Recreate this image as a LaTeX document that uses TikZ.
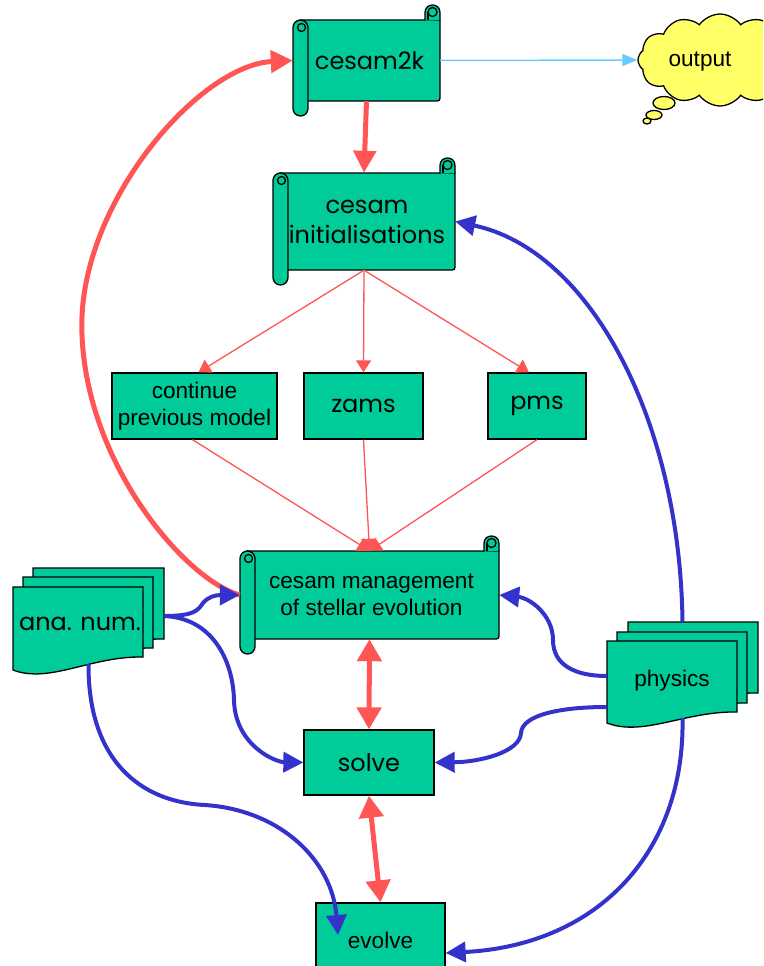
\documentclass[tikz,border=0pt]{standalone}
\usepackage{fontspec}
\setmainfont{Liberation Sans}
\newfontfamily\gothic{Poppins}
\usetikzlibrary{arrows.meta,shapes.symbols}
\definecolor{boxgreen}{RGB}{0,204,153}
\definecolor{linkred}{RGB}{255,85,85}
\definecolor{linkblue}{RGB}{51,51,204}
\definecolor{linklight}{RGB}{102,204,255}
\definecolor{cloudyellow}{RGB}{255,255,102}
\newcommand\drawscroll[4]{%
  \filldraw[shapeline] ({#1+7},#2) -- (#3,#2) -- (#3,{#4-6}) .. controls (#3,#4) .. ({#3-6},#4) -- ({#1+7},#4) -- cycle;
  \filldraw[shapeline] ({#3-15},{#2+0.6}) -- ({#3-15},{#2-7.5}) .. controls ({#3-15},{#2-17.5}) and (#3,{#2-17.5}) .. (#3,{#2-7.5}) -- (#3,#2);
  \draw[shapeline] ({#3-7.5},{#2-8}) circle (4.5);
  \draw[line width=1.3pt] ({#3-12},{#2-8}) -- ({#3-12},{#2});
  \filldraw[shapeline, rounded corners=7.5] (#1,#2) rectangle ({#1+15},{#4+15});
  \draw[shapeline] ({#1+8.5},{#2+7.5}) circle (4);
}
\newcommand\wavedoc[5]{%
  \filldraw[shapeline] (#1,#2) -- (#3,#2) -- (#3,#5) .. controls ({#3-0.4*(#3-#1)},{#5-1}) and ({#1+0.28*(#3-#1)},{#4+14}) .. (#1,#4) -- cycle;
}
\begin{document}
\begin{tikzpicture}[x=1pt,y=-1pt,
  shapeline/.style={draw=black,line width=1.3pt,fill=boxgreen},
  gtext/.style={font=\gothic\fontsize{24}{30}\selectfont},
  stext/.style={font=\fontsize{22.6}{27.5}\selectfont},
  boxnode/.style={shapeline,inner sep=0pt,align=center},
  anchornode/.style={inner sep=0pt,align=center},
  thinred/.style={draw=linkred,line width=1.3pt,-{Triangle[length=12pt,width=15pt]}},
  thickred/.style={draw=linkred,line width=5pt,-{Triangle[length=22pt,width=22pt]}},
  bothred/.style={draw=linkred,line width=5pt,{Triangle[length=22pt,width=24pt]}-{Triangle[length=22pt,width=24pt]}},
  bluelink/.style={draw=linkblue,line width=4pt,-{Triangle[length=20pt,width=20pt]}},
  lightlink/.style={draw=linklight,line width=1.5pt,-{Triangle[length=15pt,width=12pt]}},
  cloudline/.style={draw=black,line width=1.3pt,fill=cloudyellow}]
\useasboundingbox (0,0) rectangle (763,966);
\clip (0,0) rectangle (763,966);

% scrolls and boxes
\drawscroll{293}{20}{440}{101}
\node[anchornode,gtext,minimum width=147pt,minimum height=81pt] (c2k) at (366.5,60.5) {\hspace*{6pt}cesam2k};
\drawscroll{273}{173}{455}{270}
\node[anchornode,gtext,minimum width=182pt,minimum height=97pt] (init) at (364,221.5) {\hspace*{6pt}cesam\\\hspace*{6pt}initialisations};
\node[boxnode,stext,minimum width=165pt,minimum height=66pt] (cont) at (194.5,406) {continue\\previous model};
\node[boxnode,gtext,minimum width=119pt,minimum height=66pt] (zams) at (363.5,406) {zams};
\node[boxnode,gtext,minimum width=98pt,minimum height=66pt] (pms) at (537,406) {pms};
\drawscroll{240}{551}{499}{639}
\node[anchornode,stext,minimum width=259pt,minimum height=88pt] (mgmt) at (369.5,595) {\hspace*{4pt}cesam management\\\hspace*{4pt}of stellar evolution};
\node[boxnode,gtext,minimum width=130pt,minimum height=65pt] (solve) at (369,762.5) {solve};
\node[boxnode,stext,minimum width=129pt,minimum height=74pt] (evolve) at (380.5,940) {evolve};
\coordinate (evtarget) at (338,935);

% document stacks
\wavedoc{33}{568}{164}{652}{639}
\wavedoc{23}{577}{153}{661}{648}
\wavedoc{13}{587}{143}{670}{657}
\node[anchornode,minimum width=151pt,minimum height=96pt] (anastack) at (88.5,616) {};
\node[anchornode,gtext] (ana) at (80,624) {ana. num.};
\wavedoc{628}{622}{758}{704}{693}
\wavedoc{617}{632}{747}{714}{703}
\wavedoc{607}{641}{737}{723}{712}
\node[anchornode,minimum width=151pt,minimum height=96pt] (physstack) at (682.5,670) {};
\node[anchornode,stext] (phys) at (672,681) {physics};

% output cloud
\filldraw[cloudline] (664,103) ellipse (11 and 6.5);
\filldraw[cloudline] (654,115) ellipse (8 and 4.5);
\filldraw[cloudline] (647,121) ellipse (4 and 3);
\node[cloud,cloud puffs=12,cloud puff arc=110,aspect=1.8,cloudline,minimum width=164pt,minimum height=92pt,inner sep=0pt] (output) at (720,60) {};
\node[anchornode,stext] (outtext) at (700,62) {output};

% connectors
\draw[thickred] (c2k.south) -- (init.north);
\draw[lightlink] (c2k.east) -- (output.west);
\draw[thinred] (init.south) -- ([xshift=4pt]cont.north);
\draw[thinred] (init.south) -- (zams.north);
\draw[thinred] (init.south) -- ([xshift=-8pt]pms.north);
\draw[thinred] ([xshift=-2pt]cont.south) -- (mgmt.north);
\draw[thinred] (zams.south) -- (mgmt.north);
\draw[thinred] (pms.south) -- (mgmt.north);
\draw[bothred] (mgmt.south) -- (solve.north);
\draw[bothred] (solve.south) -- (evolve.north);
\draw[thickred] (mgmt.west) .. controls (185,580) and (82,460) .. (81.8,325) .. controls (82,200) and (200,65) .. (c2k.west);

\draw[bluelink] (anastack.east) .. controls (195,616) and (198,610) .. (203,603) .. controls (208,597) and (215,595) .. (mgmt.west);
\draw[bluelink] (anastack.east) .. controls (212,618) and (233,660) .. (234,700) .. controls (235,745) and (275,762) .. (solve.west);
\draw[bluelink] (anastack.south) .. controls (88,760) and (140,802) .. (205,805) .. controls (280,810) and (332,860) .. (evtarget);
\draw[bluelink] ([yshift=-6pt]physstack.west) .. controls (575,676) and (553,665) .. (553,640) .. controls (553,615) and (530,598) .. (mgmt.east);
\draw[bluelink] ([yshift=-37pt]physstack.west) .. controls (560,707) and (522,715) .. (521,733) .. controls (520,752) and (480,762) .. (solve.east);
\draw[bluelink] (physstack.north) .. controls (680,420) and (590,250) .. (init.east);
\draw[bluelink] (physstack.south) .. controls (685,850) and (600,945) .. ([yshift=-13pt]evolve.east);
\end{tikzpicture}
\end{document}
